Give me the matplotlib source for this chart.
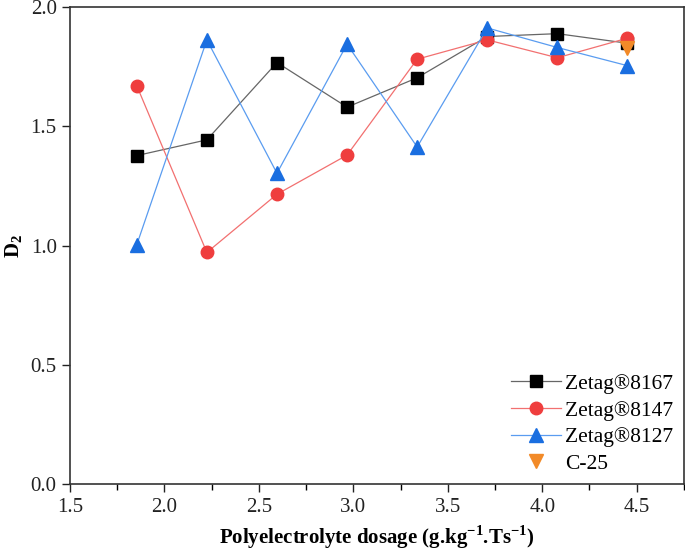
import numpy as np
import matplotlib.pyplot as plt
from matplotlib.ticker import MultipleLocator

plt.rcParams['font.family'] = ['Liberation Serif', 'DejaVu Serif']
plt.rcParams['mathtext.fontset'] = 'custom'
plt.rcParams['mathtext.rm'] = 'Liberation Serif'
plt.rcParams['mathtext.bf'] = 'Liberation Serif:bold'

dosage = [1.854, 2.225, 2.596, 2.967, 3.338, 3.709, 4.080, 4.450]
zetag_8167 = [1.378, 1.444, 1.768, 1.581, 1.704, 1.877, 1.889, 1.849]
zetag_8147 = [1.671, 0.972, 1.216, 1.380, 1.782, 1.863, 1.788, 1.870]
zetag_8127 = [1.004, 1.863, 1.304, 1.845, 1.414, 1.913, 1.831, 1.755]
c25_x = [4.450]
c25_y = [1.828]

fig = plt.figure(figsize=(6.85, 5.52), dpi=100)
ax = fig.add_axes([0.102, 0.1225, 0.8965, 0.8645])

ax.plot(dosage, zetag_8167, color='#666666', lw=0.9, marker='s', ms=8.5,
        mfc='black', mec='black', label='Zetag®8167')
ax.plot(dosage, zetag_8147, color='#f27070', lw=0.9, marker='o', ms=9,
        mfc='#ef3e3e', mec='#ef3e3e', label='Zetag®8147')
ax.plot(dosage, zetag_8127, color='#5a9cf0', lw=0.9, marker='^', ms=9.5,
        mfc='#1a6ee0', mec='#1a6ee0', label='Zetag®8127')
ax.plot(c25_x, c25_y, ls='none', marker='v', ms=9.5,
        mfc='#f28a28', mec='#f28a28', label='C-25')

ax.set_xlim(1.5, 4.75)
ax.set_ylim(0.0, 2.0)
ax.xaxis.set_major_locator(MultipleLocator(0.5))
ax.xaxis.set_minor_locator(MultipleLocator(0.25))
ax.yaxis.set_major_locator(MultipleLocator(0.5))
ax.tick_params(axis='both', which='major', direction='out', length=6, width=1,
               labelsize=15, colors='#222222')
ax.tick_params(axis='x', which='minor', direction='out', length=4, width=1)
for s in ax.spines.values():
    s.set_linewidth(1.2)
    s.set_color('#333333')

ax.set_xlabel('Polyelectrolyte dosage (g.kg$^{\\mathbf{-1}}$.Ts$^{\\mathbf{-1}}$)',
              fontsize=15, fontweight='bold', labelpad=5)
ax.set_ylabel('D$_\\mathbf{2}$', fontsize=15, fontweight='bold', labelpad=4)

ax.legend(loc='lower right', bbox_to_anchor=(1.0, 0.0), frameon=False,
          fontsize=15.5, handlelength=2.3, handletextpad=0.2,
          labelspacing=0.3, borderaxespad=0.1, borderpad=0.4)

fig.savefig('out.png', dpi=100)
